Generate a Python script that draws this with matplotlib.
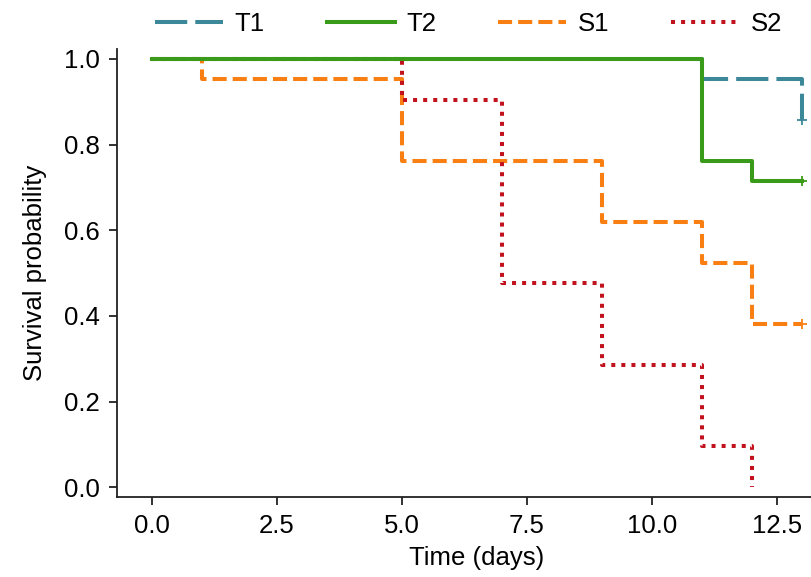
import numpy as np
import matplotlib.pyplot as plt
from matplotlib.lines import Line2D

plt.rcParams['font.family'] = ['Liberation Sans', 'DejaVu Sans']

# Kaplan-Meier step data
t1_time = [0, 11, 13]
t1_surv = [1.0, 0.952, 0.857]

t2_time = [0, 11, 12, 13]
t2_surv = [1.0, 0.762, 0.714, 0.714]

s1_time = [0, 1, 5, 9, 11, 12, 13]
s1_surv = [1.0, 0.952, 0.762, 0.619, 0.524, 0.381, 0.381]

s2_time = [0, 5, 7, 9, 11, 12]
s2_surv = [1.0, 0.905, 0.476, 0.286, 0.095, 0.0]

# censored points (time, survival)
censor_time = [13, 13, 13]
censor_surv = [0.857, 0.714, 0.381]

labels = ["T1", "T2", "S1", "S2"]
colors = ["#3C8898", "#3A9B1A", "#FA7F12", "#C2121E"]
dash_styles = [(0, (8, 2)), "solid", (0, (3.5, 1.5)), (0, (1, 1.5))]

fs = 18.5

fig = plt.figure(figsize=(8.12, 5.77), dpi=100)
# axes reaches past the right edge, like the cropped original
ax = fig.add_axes([0.1437, 0.1386, 0.887, 0.7765])

lw = 2.9
series = [(t1_time, t1_surv), (t2_time, t2_surv), (s1_time, s1_surv), (s2_time, s2_surv)]
zorders = [2, 5, 3, 4]
for (tt, ss), lab, col, ls, z in zip(series, labels, colors, dash_styles, zorders):
    ax.step(tt, ss, where="post", color=col, linestyle=ls, linewidth=lw,
            dash_capstyle="butt", zorder=z, label=lab)

for ct, cs, col in zip(censor_time, censor_surv, colors[:3]):
    ax.plot(ct, cs, marker="+", color=col, markersize=7, markeredgewidth=1.3, zorder=6)

ax.set_xlim(-0.7, 13.7)
ax.set_ylim(-0.023, 1.023)
ax.set_xticks([0, 2.5, 5, 7.5, 10, 12.5])
ax.set_xticklabels(["0.0", "2.5", "5.0", "7.5", "10.0", "12.5"])
ax.set_yticks([0, 0.2, 0.4, 0.6, 0.8, 1.0])
ax.set_yticklabels(["0.0", "0.2", "0.4", "0.6", "0.8", "1.0"])

ax.spines["top"].set_visible(False)
ax.spines["right"].set_visible(False)
for sp in ["left", "bottom"]:
    ax.spines[sp].set_linewidth(1.3)
    ax.spines[sp].set_color("#222222")
ax.tick_params(length=6, width=1.3, color="#222222", labelsize=fs, pad=6)

ax.set_xlabel("Time (days)", fontsize=fs, labelpad=6)
ax.set_ylabel("Survival probability", fontsize=fs, labelpad=12)

handles = [Line2D([], [], color=c, linestyle=ls, linewidth=lw, dash_capstyle="butt")
           for c, ls in zip(colors, dash_styles)]
fig.legend(handles, labels, loc="upper center", bbox_to_anchor=(0.577, 1.02), ncol=4,
           frameon=False, fontsize=fs, handlelength=2.65, handletextpad=0.45,
           columnspacing=2.4)

fig.savefig("out.png", dpi=100)
